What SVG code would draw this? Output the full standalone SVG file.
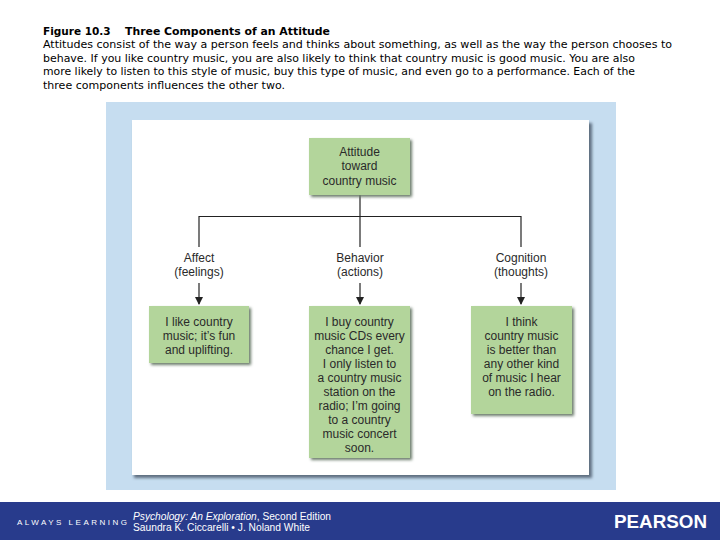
<svg xmlns="http://www.w3.org/2000/svg" width="720" height="540" viewBox="0 0 720 540">
<defs>
<style>
.hd{font-family:"DejaVu Sans","Liberation Sans",sans-serif;font-size:10.5px;fill:#000}
.hb{font-weight:bold}
.box{fill:#b3d59b}
.bt{font-family:"Liberation Sans","Open Sans",sans-serif;font-size:12px;fill:#2a2a2a;text-anchor:middle}
.lab{font-family:"Liberation Sans","Open Sans",sans-serif;font-size:12px;fill:#2a2a2a;text-anchor:middle}
.ln{stroke:#222;stroke-width:1.2;fill:none}
.ft{font-family:"Liberation Sans",sans-serif;fill:#ffffff}
</style>
<filter id="sh" x="-20%" y="-20%" width="140%" height="140%">
<feGaussianBlur stdDeviation="1.5"/>
</filter>
<marker id="ar" markerWidth="8" markerHeight="8" refX="7" refY="4" orient="auto" markerUnits="userSpaceOnUse">
<path d="M0,0 L8,4 L0,8 Z" fill="#222"/>
</marker>
</defs>
<rect width="720" height="540" fill="#ffffff"/>
<g id="header">
<text class="hd hb" y="35"><tspan x="43">Figure 10.3</tspan><tspan x="125" textLength="205" lengthAdjust="spacingAndGlyphs">Three Components of an Attitude</tspan></text>
<text class="hd" x="43" y="48" textLength="629" lengthAdjust="spacingAndGlyphs">Attitudes consist of the way a person feels and thinks about something, as well as the way the person chooses to</text>
<text class="hd" x="43" y="62" textLength="592" lengthAdjust="spacingAndGlyphs">behave. If you like country music, you are also likely to think that country music is good music. You are also</text>
<text class="hd" x="43" y="75" textLength="592" lengthAdjust="spacingAndGlyphs">more likely to listen to this style of music, buy this type of music, and even go to a performance. Each of the</text>
<text class="hd" x="43" y="89" textLength="242" lengthAdjust="spacingAndGlyphs">three components influences the other two.</text>
</g>
<g id="panel">
<rect x="106" y="102" width="510" height="388" fill="#c6ddf0"/>
<rect x="134" y="123" width="458" height="355" fill="#5e6e80" filter="url(#sh)"/>
<rect x="132" y="120" width="457" height="355" fill="#ffffff"/>
</g>
<g id="connectors">
<line class="ln" x1="360" y1="195" x2="360" y2="247"/>
<line class="ln" x1="199" y1="216.5" x2="521" y2="216.5"/>
<line class="ln" x1="199" y1="216" x2="199" y2="247"/>
<line class="ln" x1="521" y1="216" x2="521" y2="247"/>
<line class="ln" x1="199" y1="283" x2="199" y2="304" marker-end="url(#ar)"/>
<line class="ln" x1="360" y1="283" x2="360" y2="304" marker-end="url(#ar)"/>
<line class="ln" x1="521" y1="283" x2="521" y2="304" marker-end="url(#ar)"/>
</g>
<g id="label-affect">
<text class="lab" x="199" y="262">Affect</text>
<text class="lab" x="199" y="276">(feelings)</text>
</g>
<g id="label-behavior">
<text class="lab" x="360" y="262">Behavior</text>
<text class="lab" x="360" y="276">(actions)</text>
</g>
<g id="label-cognition">
<text class="lab" x="521" y="262">Cognition</text>
<text class="lab" x="521" y="276">(thoughts)</text>
</g>
<g id="node-attitude">
<rect x="311" y="140" width="101" height="57" fill="#6b7a6a" filter="url(#sh)"/>
<rect class="box" x="309" y="138" width="101" height="57"/>
<text class="bt" x="359.5" y="156">Attitude</text>
<text class="bt" x="359.5" y="170">toward</text>
<text class="bt" x="359.5" y="185">country music</text>
</g>
<g id="node-affect">
<rect x="151" y="308" width="100" height="57" fill="#6b7a6a" filter="url(#sh)"/>
<rect class="box" x="149" y="306" width="100" height="57"/>
<text class="bt" x="199" y="326">I like country</text>
<text class="bt" x="199" y="340">music; it’s fun</text>
<text class="bt" x="199" y="354">and uplifting.</text>
</g>
<g id="node-behavior">
<rect x="311" y="308" width="101" height="152" fill="#6b7a6a" filter="url(#sh)"/>
<rect class="box" x="309" y="306" width="101" height="152"/>
<text class="bt" x="359.5" y="326">I buy country</text>
<text class="bt" x="359.5" y="340">music CDs every</text>
<text class="bt" x="359.5" y="354">chance I get.</text>
<text class="bt" x="359.5" y="368">I only listen to</text>
<text class="bt" x="359.5" y="382">a country music</text>
<text class="bt" x="359.5" y="396">station on the</text>
<text class="bt" x="359.5" y="410">radio; I’m going</text>
<text class="bt" x="359.5" y="424">to a country</text>
<text class="bt" x="359.5" y="438">music concert</text>
<text class="bt" x="359.5" y="452">soon.</text>
</g>
<g id="node-cognition">
<rect x="473" y="308" width="101" height="108" fill="#6b7a6a" filter="url(#sh)"/>
<rect class="box" x="471" y="306" width="101" height="108"/>
<text class="bt" x="521.5" y="326">I think</text>
<text class="bt" x="521.5" y="340">country music</text>
<text class="bt" x="521.5" y="354">is better than</text>
<text class="bt" x="521.5" y="368">any other kind</text>
<text class="bt" x="521.5" y="382">of music I hear</text>
<text class="bt" x="521.5" y="396">on the radio.</text>
</g>
<g id="footer">
<rect x="0" y="502" width="720" height="38" fill="#283b8c"/>
<text class="ft" x="17" y="525" font-size="8" textLength="110" lengthAdjust="spacing" fill="#d8dcea">ALWAYS LEARNING</text>
<text class="ft" x="133" y="520" font-size="10" textLength="198" lengthAdjust="spacingAndGlyphs"><tspan font-style="italic">Psychology: An Exploration</tspan>, Second Edition</text>
<text class="ft" x="133" y="531" font-size="10" textLength="177" lengthAdjust="spacingAndGlyphs">Saundra K. Ciccarelli • J. Noland White</text>
<text class="ft" x="614" y="528" font-size="17.5" font-weight="bold" textLength="93" lengthAdjust="spacingAndGlyphs">PEARSON</text>
</g>
</svg>
